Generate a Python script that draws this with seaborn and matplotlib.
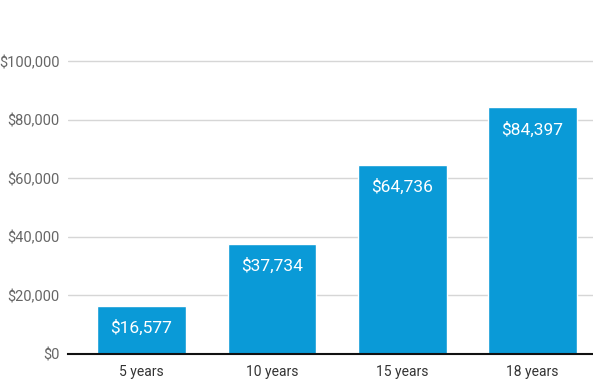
import matplotlib
matplotlib.use("Agg")
import matplotlib.pyplot as plt
import seaborn as sns
import pandas as pd

# data
periods = ["5 years", "10 years", "15 years", "18 years"]
savings = [16577, 37734, 64736, 84397]
ytick_vals = [0, 20000, 40000, 60000, 80000, 100000]
ytick_labels = ["$0", "$20,000", "$40,000", "$60,000", "$80,000", "$100,000"]

df = pd.DataFrame({"period": periods, "savings": savings})

sns.set_style("white")
plt.rcParams["font.family"] = ["Roboto", "DejaVu Sans"]

fig = plt.figure(figsize=(5.93, 3.79), dpi=100)
ax = fig.add_axes([68/593, 25/379, 1 - 68/593, 1 - 25/379])

sns.barplot(data=df, x="period", y="savings", color="#0a9ad7", saturation=1,
            width=0.68, ax=ax, zorder=3)

ax.set_xlim(-0.564, 3.464)
ax.set_ylim(0, 121000)
ax.set_yticks(ytick_vals)
ax.set_yticklabels(ytick_labels)
ax.yaxis.grid(True, color="#d6d6d6", linewidth=1)
ax.set_axisbelow(True)

for s in ["top", "right", "left"]:
    ax.spines[s].set_visible(False)
ax.spines["bottom"].set_color("#111111")
ax.spines["bottom"].set_linewidth(1.5)
ax.spines["bottom"].set_zorder(4)

ax.tick_params(axis="y", length=0, pad=6, labelsize=10.5, labelcolor="#666666")
ax.tick_params(axis="x", length=0, pad=8, labelsize=10, labelcolor="#333333")
ax.set_xlabel("")
ax.set_ylabel("")

# value labels inside the top of each bar
for i, v in enumerate(savings):
    ax.annotate("${:,}".format(v), (i, v), xytext=(0, -16), textcoords="offset points",
                ha="center", va="center", color="white", fontsize=12.5, zorder=5)

fig.savefig("out.png", dpi=100)
